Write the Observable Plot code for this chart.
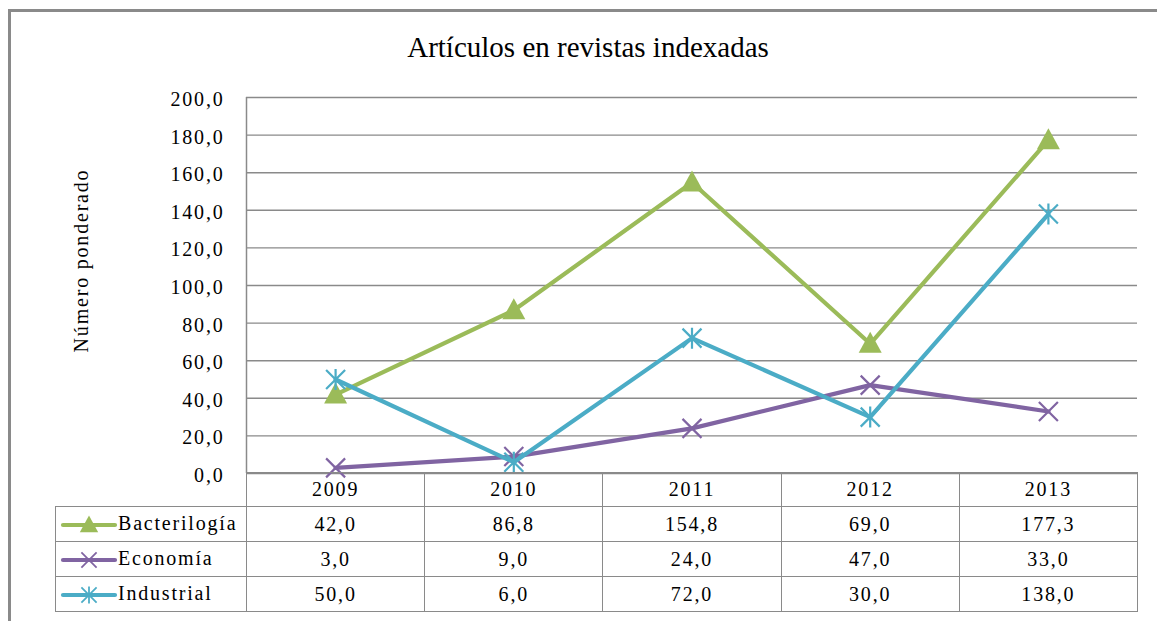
<!DOCTYPE html>
<html><head><meta charset="utf-8">
<script src="https://cdn.jsdelivr.net/npm/d3@7"></script>
<script src="https://cdn.jsdelivr.net/npm/@observablehq/plot@0.6"></script>
<style>
body{margin:0;background:#fff;}
#wrap{position:relative;width:1157px;height:621px;overflow:hidden;font-family:'Liberation Serif','Times New Roman',serif;color:#000;}
#border{position:absolute;left:8px;top:9px;width:1170px;height:700px;border:3px solid #8a8a8a;box-sizing:border-box;}
#title{position:absolute;left:0;top:30px;width:1176px;text-align:center;font-size:29px;line-height:34px;}
#chart{position:absolute;left:0;top:0;}
#chart svg text{letter-spacing:1.8px;font-family:'Liberation Serif','Times New Roman',serif;}
#tbl{position:absolute;border-collapse:collapse;table-layout:fixed;font-family:'Liberation Serif','Times New Roman',serif;font-size:20px;letter-spacing:1.8px;color:#000;}
#tbl td{border:1.5px solid #8a8a8a;text-align:center;padding:0;white-space:nowrap;}
#tbl td.lab{text-align:left;}
#tbl td.corner{border-top:none;border-left:none;}
</style></head>
<body>
<div id="wrap">
  <div id="border"></div>
  <div id="title"></div>
  <div id="chart"></div>
</div>
<script>
const title = "Artículos en revistas indexadas";
const yLabel = "Número ponderado";
const years = [2009, 2010, 2011, 2012, 2013];
const seriesNames = ["Bacterilogía", "Economía", "Industrial"];
const bacteriologia = [42.0, 86.8, 154.8, 69.0, 177.3];
const economia = [3.0, 9.0, 24.0, 47.0, 33.0];
const industrial = [50.0, 6.0, 72.0, 30.0, 138.0];
const yTicks = [0, 20, 40, 60, 80, 100, 120, 140, 160, 180, 200];
const colors = ["#9BBB59", "#8064A2", "#4BACC6"];

const seriesValues = [bacteriologia, economia, industrial];
const fmt = d => d.toFixed(1).replace(".", ",");

// Excel-like marker symbols
const triSym = {draw(c){ c.moveTo(0,-12); c.lineTo(11.5,9); c.lineTo(-11.5,9); c.closePath(); }};
const timesSym = {draw(c){ const s=9.5; c.moveTo(-s,-s); c.lineTo(s,s); c.moveTo(-s,s); c.lineTo(s,-s); }};
const starSym = {draw(c){ const s=9.5; c.moveTo(-s,-s); c.lineTo(s,s); c.moveTo(-s,s); c.lineTo(s,-s); c.moveTo(0,-s-1); c.lineTo(0,s+1); }};
const symbols = [triSym, timesSym, starSym];
const filled = [true, false, false];

document.getElementById("title").textContent = title;

const rows = seriesNames.map((name, i) => years.map((yr, j) => ({serie: name, year: yr, value: seriesValues[i][j]})));

const seriesMarks = rows.flatMap((data, i) => [
  Plot.line(data, {x: "year", y: "value", stroke: colors[i], strokeWidth: 4.2, strokeLinejoin: "round", strokeLinecap: "round"}),
  Plot.dot(data, filled[i]
    ? {x: "year", y: "value", symbol: () => symbols[i], fill: colors[i], stroke: "none"}
    : {x: "year", y: "value", symbol: () => symbols[i], fill: "none", stroke: colors[i], strokeWidth: 2.2})
]);

const chart = Plot.plot({
  width: 1157, height: 621,
  marginTop: 97, marginBottom: 148, marginLeft: 246, marginRight: 20,
  style: {fontFamily: "'Liberation Serif', 'Times New Roman', serif", fontSize: "20px", color: "#000", background: "transparent", overflow: "visible"},
  x: {domain: [years[0] - 0.5, years[years.length - 1] + 0.5], axis: null},
  y: {domain: [0, 200], axis: null},
  marks: [
    Plot.ruleY(yTicks, {stroke: "#8a8a8a", strokeWidth: 1.4}),
    Plot.ruleX([years[0] - 0.5], {stroke: "#8a8a8a", strokeWidth: 1.5}),
    Plot.axisY({ticks: yTicks, label: null, tickSize: 0, tickPadding: 22, tickFormat: fmt, fontSize: 20, fill: "#000", dy: 2}),
    Plot.text([yLabel], {frameAnchor: "left", textAnchor: "middle", dx: -165, dy: -25, rotate: -90, fontSize: 20, fill: "#000"}),
    ...seriesMarks
  ]
});
document.getElementById("chart").appendChild(chart);

// data table aligned with the x scale
const xs = chart.scale("x");
const edges = [years[0] - 0.5, ...years.map(y => y + 0.5)].map(v => xs.apply(v));
const tableLeft = 55;
const tbl = document.createElement("table");
tbl.id = "tbl";
tbl.style.left = tableLeft + "px";
tbl.style.top = (chart.scale("y").apply(0) - 0.75) + "px";
const colg = document.createElement("colgroup");
const widths = [edges[0] - tableLeft, ...edges.slice(1).map((e, i) => e - edges[i])];
widths.forEach(w => { const c = document.createElement("col"); c.style.width = w + "px"; colg.appendChild(c); });
tbl.appendChild(colg);
tbl.style.width = (edges[edges.length - 1] - tableLeft) + "px";

const hr = document.createElement("tr");
hr.style.height = "34px";
const corner = document.createElement("td"); corner.className = "corner"; hr.appendChild(corner);
years.forEach(y => { const td = document.createElement("td"); td.textContent = y; hr.appendChild(td); });
tbl.appendChild(hr);

seriesNames.forEach((name, i) => {
  const tr = document.createElement("tr");
  tr.style.height = "35px";
  const lab = document.createElement("td"); lab.className = "lab";
  const p = d3.path(); symbols[i].draw(p);
  const sw = d3.create("svg").attr("width", 58).attr("height", 24)
    .style("vertical-align", "middle").style("margin-left", "4px").style("margin-right", "0px");
  sw.append("line").attr("x1", 3).attr("x2", 55).attr("y1", 12).attr("y2", 12)
    .attr("stroke", colors[i]).attr("stroke-width", 4.2).attr("stroke-linecap", "round");
  sw.append("path").attr("d", p.toString()).attr("transform", "translate(29,12) scale(0.8)")
    .attr("fill", filled[i] ? colors[i] : "none").attr("stroke", filled[i] ? "none" : colors[i]).attr("stroke-width", 2.2);
  lab.appendChild(sw.node());
  lab.appendChild(document.createTextNode(name));
  tr.appendChild(lab);
  seriesValues[i].forEach(v => { const td = document.createElement("td"); td.textContent = fmt(v); tr.appendChild(td); });
  tbl.appendChild(tr);
});
document.getElementById("wrap").appendChild(tbl);
</script>
</body></html>
